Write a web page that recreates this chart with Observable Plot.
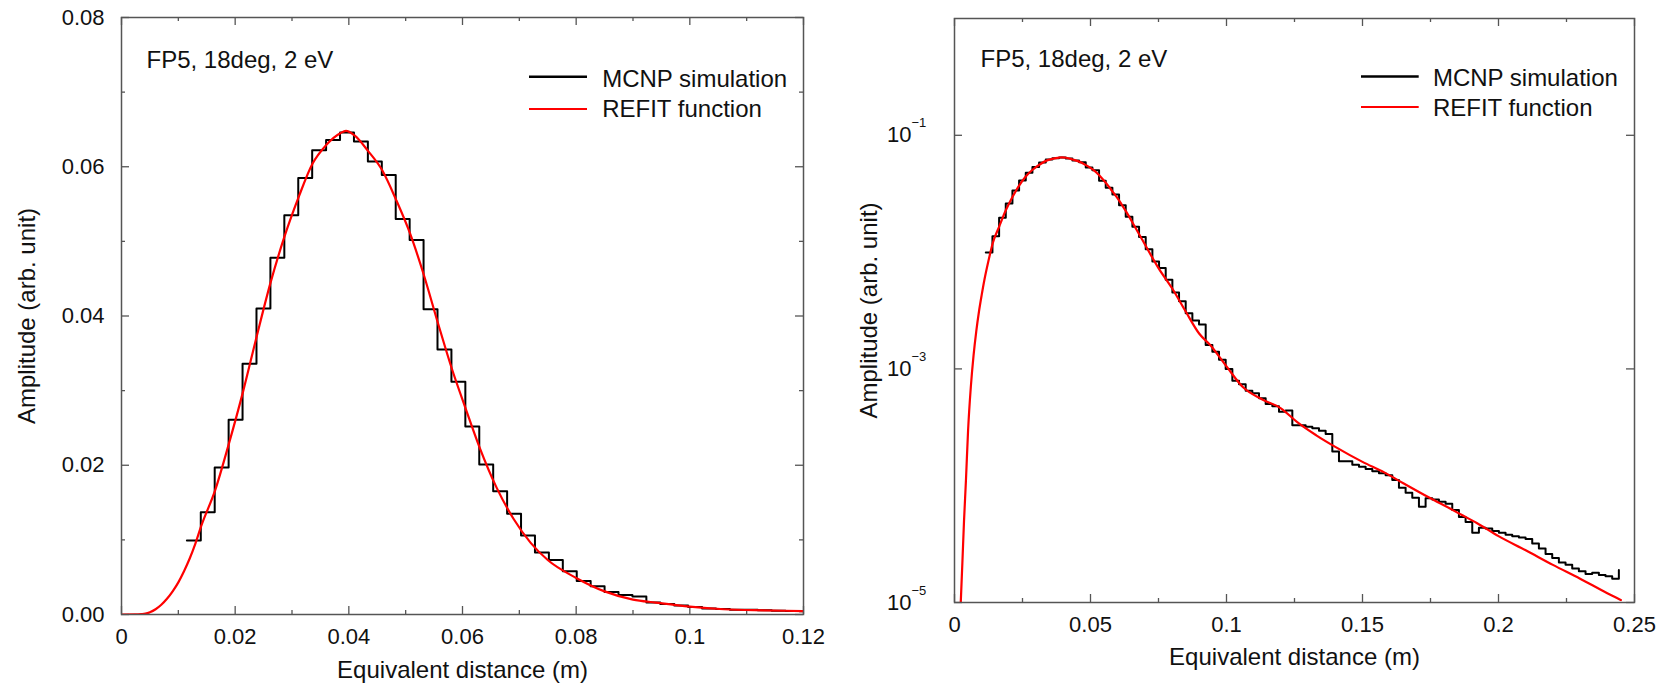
<!DOCTYPE html>
<html><head><meta charset="utf-8">
<script src="https://cdn.jsdelivr.net/npm/d3@7"></script>
<script src="https://cdn.jsdelivr.net/npm/@observablehq/plot@0.6"></script>
<style>
body{margin:0;background:#fff;}
#wrap{display:flex;width:1660px;height:683px;}
svg{display:block}
</style></head><body><div id="wrap"></div>
<script>
const FONT = "'Liberation Sans', Arial, Helvetica, sans-serif";
const annotation = "FP5, 18deg, 2 eV";
const seriesNames = ["MCNP simulation", "REFIT function"];
const seriesColors = ["#000000", "#ff0000"];
const xTitle = "Equivalent distance (m)";
const yTitle = "Amplitude (arb. unit)";

// MCNP histogram: uniform bins starting at binStart; last entry is the closing edge value
const binStart = 0.0115, binWidth = 0.00245;
const mcnpValues = [
  0.0099, 0.0137, 0.0197, 0.0261, 0.0336, 0.0410, 0.0478, 0.0535, 0.0585, 0.0622,
  0.0636, 0.0646, 0.0634, 0.0607, 0.0589, 0.0530, 0.0502, 0.0409, 0.0355, 0.0312,
  0.0252, 0.0201, 0.0165, 0.0135, 0.0106, 0.0083, 0.0073, 0.0058, 0.0045, 0.0038,
  0.0030, 0.0026, 0.0024, 0.0016, 0.0014, 0.0012, 0.0010, 0.00079, 0.00074, 0.00065,
  0.00062, 0.00056, 0.00050, 0.00048, 0.00043, 0.00044, 0.00033, 0.00033, 0.00032, 0.00031,
  0.000295, 0.000277, 0.000196, 0.000162, 0.000162, 0.000151, 0.000145, 0.000139, 0.000133, 0.000128,
  0.000123, 0.000112, 0.000096, 0.000087, 0.000079, 0.000066, 0.000078, 0.000076, 0.000073, 0.000070,
  0.000062, 0.000054, 0.000049, 0.0000395, 0.0000437, 0.000043, 0.000041, 0.0000395, 0.000038, 0.000037,
  0.000036, 0.000035, 0.000032, 0.000029, 0.000026, 0.000024, 0.000022, 0.000021, 0.0000195, 0.0000185,
  0.0000175, 0.000018, 0.0000172, 0.0000168, 0.000016, 0.000019
];

// REFIT function
const refitX = [0, 0.0023, 0.0029, 0.0035, 0.0042, 0.005, 0.006, 0.007, 0.008, 0.009,
  0.010, 0.011, 0.012, 0.013, 0.014, 0.0165, 0.0189, 0.0214, 0.0238, 0.0262,
  0.0287, 0.0312, 0.0336, 0.036, 0.0385, 0.0395, 0.041, 0.0434, 0.0459, 0.0483,
  0.0508, 0.0532, 0.0557, 0.0581, 0.0606, 0.063, 0.066, 0.069, 0.072, 0.075,
  0.080, 0.085, 0.090, 0.094, 0.100, 0.106, 0.113, 0.120, 0.126, 0.133,
  0.140, 0.150, 0.158, 0.165, 0.175, 0.182, 0.186, 0.192, 0.200, 0.210,
  0.220, 0.230, 0.240, 0.245];
const refitY = [0, 1.0e-5, 2.2e-5, 5.0e-5, 1.1e-4, 3.0e-4, 7.0e-4, 1.3e-3, 2.1e-3, 3.1e-3,
  4.3e-3, 5.8e-3, 7.5e-3, 9.5e-3, 0.0118, 0.0167, 0.0229, 0.0299, 0.0373, 0.0444,
  0.0507, 0.0560, 0.0604, 0.0629, 0.0645, 0.0648, 0.0642, 0.0621, 0.0595, 0.0556,
  0.0510, 0.0455, 0.0390, 0.0330, 0.0275, 0.0224, 0.0170, 0.0128, 0.0096, 0.0073,
  0.0049, 0.0031, 0.0020, 0.0016, 0.00105, 7.0e-4, 5.5e-4, 4.6e-4, 3.5e-4, 2.7e-4,
  2.15e-4, 1.6e-4, 1.3e-4, 1.05e-4, 7.8e-5, 6.4e-5, 5.7e-5, 4.8e-5, 3.7e-5, 2.8e-5,
  2.1e-5, 1.6e-5, 1.2e-5, 1.05e-5];

// ticks
const leftXMajor = [0, 0.02, 0.04, 0.06, 0.08, 0.1, 0.12];
const leftXMinor = [0.01, 0.03, 0.05, 0.07, 0.09, 0.11];
const leftYMajor = [0, 0.02, 0.04, 0.06, 0.08];
const leftYMinor = [0.01, 0.03, 0.05, 0.07];
const rightXMajor = [0, 0.05, 0.1, 0.15, 0.2, 0.25];
const rightXMinor = [0.025, 0.075, 0.125, 0.175, 0.225];
const rightYMajor = [1e-5, 1e-3, 1e-1];

const hist = mcnpValues.map((v, i) => ({x: binStart + i * binWidth, y: v}));
const refit = refitX.map((x, i) => ({x, y: refitY[i]}));

const W = 830, H = 683;
const AX = "#555";

function tickRulesX(vals, len, innerH) {
  return [
    Plot.ruleX(vals, {x: d => d, insetTop: innerH - len, stroke: AX, strokeWidth: 1.3}),
    Plot.ruleX(vals, {x: d => d, insetBottom: innerH - len, stroke: AX, strokeWidth: 1.3})
  ];
}
function tickRulesY(vals, len, innerW) {
  return [
    Plot.ruleY(vals, {y: d => d, insetRight: innerW - len, stroke: AX, strokeWidth: 1.3}),
    Plot.ruleY(vals, {y: d => d, insetLeft: innerW - len, stroke: AX, strokeWidth: 1.3})
  ];
}

function panel(cfg) {
  const {ml, mr, mt, mb, log} = cfg;
  const innerW = W - ml - mr, innerH = H - mt - mb;
  const marks = [
    ...tickRulesX(cfg.xMajor, 8, innerH),
    ...tickRulesX(cfg.xMinor, 4, innerH),
    ...tickRulesY(cfg.yMajor, 8, innerW),
    ...(cfg.yMinor ? tickRulesY(cfg.yMinor, 4, innerW) : []),
    Plot.axisX(cfg.xMajor, {tickSize: 0, tickPadding: 14, tickFormat: d3.format("~g"), label: null}),
    Plot.line(hist, {x: "x", y: "y", curve: "step-after", stroke: seriesColors[0], strokeWidth: 2, clip: true}),
    Plot.line(log ? refit.filter(d => d.y > 0) : refit, {x: "x", y: "y", curve: "monotone-x", stroke: seriesColors[1], strokeWidth: 2.2, clip: true}),
    Plot.frame({stroke: AX, strokeWidth: 1.5}),
    Plot.text([annotation], {text: d => d, frameAnchor: "top-left", dx: cfg.ann[0], dy: cfg.ann[1], lineAnchor: "bottom", textAnchor: "start", fontSize: 24}),
    Plot.text([seriesNames[0]], {text: d => d, frameAnchor: "top-left", dx: cfg.legX, dy: cfg.legY[0], lineAnchor: "bottom", textAnchor: "start", fontSize: 24}),
    Plot.text([seriesNames[1]], {text: d => d, frameAnchor: "top-left", dx: cfg.legX, dy: cfg.legY[1], lineAnchor: "bottom", textAnchor: "start", fontSize: 24}),
    Plot.text([xTitle], {text: d => d, frameAnchor: "bottom", dy: cfg.xTitleDy, lineAnchor: "bottom", fontSize: 24}),
    Plot.text([yTitle], {text: d => d, frameAnchor: "left", rotate: -90, dx: cfg.yTitleDx, lineAnchor: "bottom", textAnchor: "middle", fontSize: 24})
  ];
  if (log) {
    marks.push(
      Plot.text(cfg.yMajor, {y: d => d, frameAnchor: "left", text: () => "10", textAnchor: "end", dx: -43, fontSize: 22}),
      Plot.text(cfg.yMajor, {y: d => d, frameAnchor: "left", text: d => "\u2212" + Math.round(-Math.log10(d)), textAnchor: "start", dx: -43, dy: -12, fontSize: 13})
    );
  } else {
    marks.push(Plot.axisY(cfg.yMajor, {tickSize: 0, tickPadding: 17, tickFormat: d3.format(".2f"), label: null}));
  }
  const svg = Plot.plot({
    width: W, height: H,
    marginLeft: ml, marginRight: mr, marginTop: mt, marginBottom: mb,
    style: {fontFamily: FONT, fontSize: "22px", background: "#fff", color: "#111", overflow: "visible"},
    x: {domain: cfg.xDomain},
    y: log ? {type: "log", domain: cfg.yDomain, axis: null} : {domain: cfg.yDomain},
    marks
  });
  const g = d3.select(svg).append("g");
  cfg.legLineY.forEach((yy, i) => {
    g.append("line")
      .attr("x1", ml + cfg.legLine[0]).attr("x2", ml + cfg.legLine[1])
      .attr("y1", mt + yy).attr("y2", mt + yy)
      .attr("stroke", seriesColors[i]).attr("stroke-width", i === 0 ? 2.6 : 2.2);
  });
  return svg;
}

const wrap = document.getElementById("wrap");
wrap.appendChild(panel({
  ml: 121, mr: 27, mt: 17, mb: 69, log: false,
  xDomain: [0, 0.12], yDomain: [0, 0.08],
  xMajor: leftXMajor, xMinor: leftXMinor, yMajor: leftYMajor, yMinor: leftYMinor,
  ann: [25, 50.7], legX: 480.7, legY: [69, 99.7], legLine: [408, 466], legLineY: [59.7, 92],
  xTitleDy: 63, yTitleDx: -86.7
}));
wrap.appendChild(panel({
  ml: 124, mr: 26, mt: 18, mb: 81, log: true,
  xDomain: [0, 0.25], yDomain: [1e-5, 1],
  xMajor: rightXMajor, xMinor: rightXMinor, yMajor: rightYMajor, yMinor: null,
  ann: [26, 48.7], legX: 478.4, legY: [67.3, 97.9], legLine: [407, 464.7], legLineY: [58.5, 89],
  xTitleDy: 62, yTitleDx: -77.4
}));
</script></body></html>
